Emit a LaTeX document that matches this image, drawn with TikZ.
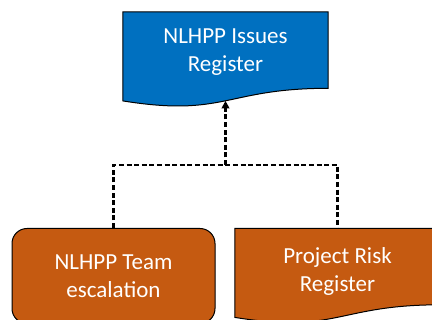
\documentclass[tikz,border=0pt]{standalone}
\usepackage{fontspec}
\setmainfont{Carlito}
\usetikzlibrary{arrows.meta,calc}
\definecolor{regblue}{HTML}{0070C0}
\definecolor{regorange}{HTML}{C55A11}
\tikzset{
  boxtext/.style={text=white, align=center, font=\fontsize{23}{28}\selectfont, inner sep=0pt},
  docframe/.style={minimum width=205pt, minimum height=95pt, inner sep=0pt},
  roundbox/.style={draw=black, line width=1pt, rounded corners=15pt, fill=regorange,
    minimum width=203pt, minimum height=95pt, text=white, align=center,
    font=\fontsize{23}{28}\selectfont, inner sep=0pt},
  conn/.style={draw=black, line width=2.1pt, dash pattern=on 5pt off 2.6pt},
}
% flowchart "document" outline built on the frame of a named node
\newcommand\docwave[2]{%
  \draw[fill=#2, line width=1pt] let \p1=(#1.north west), \p2=(#1.south east) in
    (\x1,\y1) -- (\x2,\y1) -- (\x2,{\y1+0.802*(\y2-\y1)})
    .. controls ({0.5*(\x1+\x2)},{\y1+0.802*(\y2-\y1)}) and ({0.5*(\x1+\x2)},{\y1+1.1075*(\y2-\y1)})
    .. (\x1,{\y1+0.934*(\y2-\y1)}) -- cycle;}
\begin{document}
\begin{tikzpicture}[x=1pt,y=-1pt]
\useasboundingbox (0,0) rectangle (432,320);
\clip (0,0) rectangle (432,320);
% issues register (top)
\node[docframe] (issues) at (225.5,59.5) {};
\docwave{issues}{regblue}
\node[boxtext] (issuestext) at (225.5,52) {NLHPP Issues\\Register};
% team escalation (bottom left)
\node[roundbox, text depth=-2pt] (team) at (113.5,276) {NLHPP Team\\escalation};
% project risk register (bottom right)
\node[docframe] (risk) at (337.5,276) {};
\docwave{risk}{regorange}
\node[boxtext] (risktext) at (337.5,271) {Project Risk\\Register};
% dashed connectors
\coordinate (join) at (225.5,165);
\coordinate (issuesin) at ([yshift=6.4pt]issues.south);
\draw[conn] (team.north) |- (join) -| (risk.north);
\draw[conn, -{Triangle[length=7.5pt,width=7.5pt]}] (join) -- (issuesin);
\end{tikzpicture}
\end{document}
